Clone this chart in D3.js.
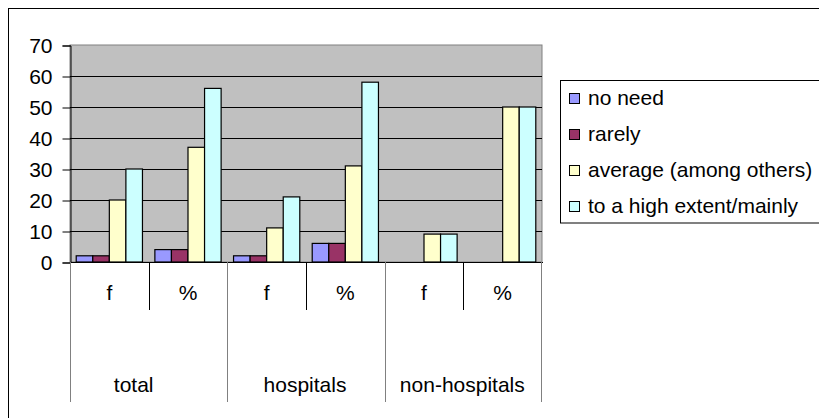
<!DOCTYPE html>
<html>
<head>
<meta charset="utf-8">
<script src="https://cdn.jsdelivr.net/npm/d3@7"></script>
<style>
  html, body { margin: 0; padding: 0; background: #fff; }
  svg text { font-family: "Liberation Sans", Arial, sans-serif; fill: #000; }
</style>
</head>
<body>
<svg id="chart" width="819" height="418"></svg>
<script>
// Grouped bars: four response levels for each (group, measure) column
const groups = ["total", "hospitals", "non-hospitals"];
const measures = ["f", "%"];
const seriesNames = ["no need", "rarely", "average (among others)", "to a high extent/mainly"];
const seriesColors = ["#9999ff", "#993366", "#ffffcc", "#ccffff"];
const noNeed   = [2, 4, 2, 6, 0, 0];
const rarely   = [2, 4, 2, 6, 0, 0];
const average  = [20, 37, 11, 31, 9, 50];
const highExt  = [30, 56, 21, 58, 9, 50];
const yTicks   = [0, 10, 20, 30, 40, 50, 60, 70];

const series = [noNeed, rarely, average, highExt];
const columns = [];
groups.forEach(g => measures.forEach(m => columns.push(g + "|" + m)));

const svg = d3.select("#chart");
const plot = { left: 70, top: 45, right: 542, bottom: 262 };
const font = 21;

// outer chart frame
svg.append("rect").attr("x", 8.5).attr("y", 8.5).attr("width", 830).attr("height", 430)
  .attr("fill", "#fff").attr("stroke", "#000").attr("stroke-width", 1);

const x = d3.scaleBand().domain(columns).range([plot.left, plot.right]).paddingInner(0).paddingOuter(0);
const xs = d3.scaleBand().domain(d3.range(seriesNames.length)).range([0, x.bandwidth()])
  .paddingInner(0).paddingOuter(0.375);
const y = d3.scaleLinear().domain([0, 70]).range([plot.bottom, plot.top]);

// plot background
svg.append("rect").attr("x", plot.left).attr("y", plot.top)
  .attr("width", plot.right - plot.left).attr("height", plot.bottom - plot.top)
  .attr("fill", "#c0c0c0").attr("stroke", "#808080").attr("stroke-width", 1);

// gridlines
svg.append("g").selectAll("line").data(yTicks.filter(v => v > 0 && v < 70)).join("line")
  .attr("x1", plot.left).attr("x2", plot.right)
  .attr("y1", d => Math.round(y(d)) + 0.5).attr("y2", d => Math.round(y(d)) + 0.5)
  .attr("stroke", "#000").attr("stroke-width", 1);

// y axis
const yAxis = d3.axisLeft(y).tickValues(yTicks).tickSize(8).tickPadding(10).tickFormat(d3.format("d"));
const ya = svg.append("g").attr("transform", `translate(${plot.left + 0.5},0.5)`).call(yAxis);
ya.select(".domain").attr("stroke", "#000");
ya.selectAll(".tick line").attr("stroke", "#000");
ya.selectAll(".tick text").attr("font-size", font).attr("font-family", "Liberation Sans, Arial, sans-serif")
  .attr("fill", "#000").attr("dy", "0.35em");

// bars
const cols = svg.append("g").selectAll("g").data(columns).join("g")
  .attr("transform", d => `translate(${x(d)},0)`);
cols.selectAll("rect").data((c, ci) => series.map((s, si) => ({ si, v: s[ci] })).filter(d => d.v > 0))
  .join("rect")
  .attr("x", d => xs(d.si))
  .attr("width", xs.bandwidth())
  .attr("y", d => y(d.v))
  .attr("height", d => y(0) - y(d.v))
  .attr("fill", d => seriesColors[d.si])
  .attr("stroke", "#000").attr("stroke-width", 1.2);

// zero line
svg.append("line").attr("x1", plot.left).attr("x2", plot.right + 1)
  .attr("y1", plot.bottom + 0.5).attr("y2", plot.bottom + 0.5).attr("stroke", "#000");

// category divider lines (measure level short, group level long)
const subBottom = 310, majBottom = 402;
columns.forEach((c, i) => {
  const xx = Math.round(x(c)) + 0.5;
  const isMajor = i % measures.length === 0;
  svg.append("line").attr("x1", xx).attr("x2", xx).attr("y1", plot.bottom)
    .attr("y2", isMajor ? majBottom : subBottom).attr("stroke", isMajor ? "#808080" : "#000");
});
svg.append("line").attr("x1", plot.right - 0.5).attr("x2", plot.right - 0.5)
  .attr("y1", plot.bottom).attr("y2", majBottom).attr("stroke", "#808080");

// measure labels
svg.append("g").selectAll("text").data(columns).join("text")
  .attr("x", d => x(d) + x.bandwidth() / 2).attr("y", 300)
  .attr("text-anchor", "middle").attr("font-size", font)
  .text(d => d.split("|")[1]);

// group labels
const groupOffset = [-15, -1, -1];
svg.append("g").selectAll("text").data(groups).join("text")
  .attr("x", (g, i) => x(g + "|" + measures[0]) + x.bandwidth() + groupOffset[i])
  .attr("y", 392)
  .attr("text-anchor", "middle").attr("font-size", font)
  .text(d => d);

// legend
const lg = svg.append("g");
lg.append("rect").attr("x", 560.5).attr("y", 80.5).attr("width", 300).attr("height", 142.5)
  .attr("fill", "#fff").attr("stroke", "#000");
lg.append("line").attr("x1", 561).attr("x2", 819).attr("y1", 223.5).attr("y2", 223.5).attr("stroke", "#808080");
const rowY = [98, 134, 170, 206];
seriesNames.forEach((name, i) => {
  lg.append("rect").attr("x", 569.5).attr("y", rowY[i] - 4.5).attr("width", 10).attr("height", 10)
    .attr("fill", seriesColors[i]).attr("stroke", "#000");
  lg.append("text").attr("x", 588).attr("y", rowY[i]).attr("dy", "0.35em")
    .attr("font-size", font).text(name);
});
</script>
</body>
</html>
